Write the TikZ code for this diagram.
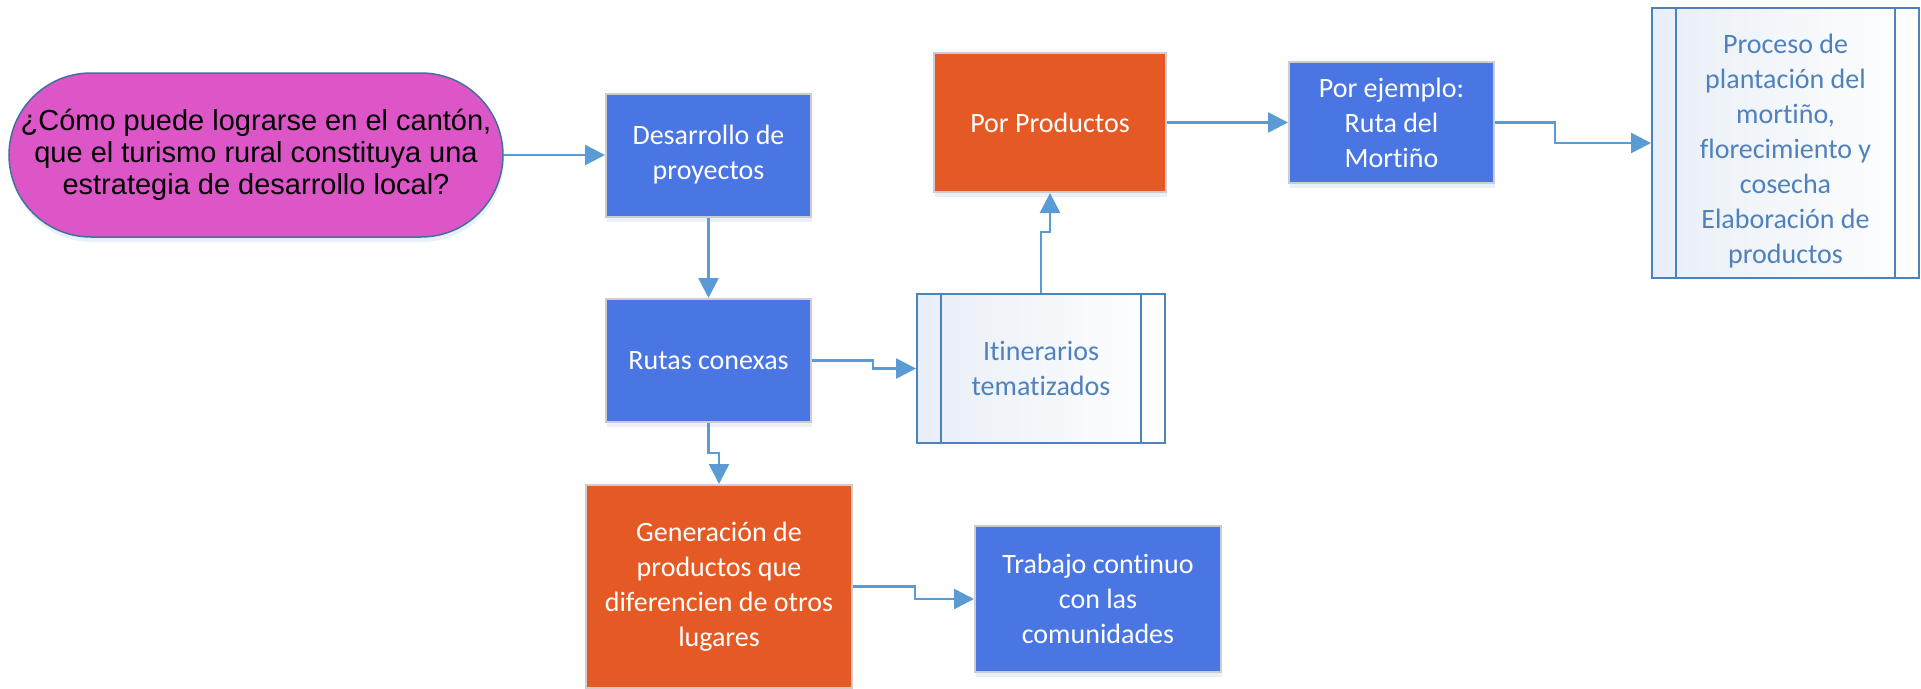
\documentclass[tikz,border=0pt]{standalone}
\usepackage{fontspec}
\setmainfont{Carlito}[Ligatures=NoCommon]
\newfontfamily\arialfont{Liberation Sans}
\usetikzlibrary{arrows.meta,shadows}
\definecolor{fillBlue}{RGB}{74,118,228}
\definecolor{fillOrange}{RGB}{229,89,36}
\definecolor{fillPink}{RGB}{220,86,200}
\definecolor{lineBlue}{RGB}{91,155,213}
\definecolor{procBlue}{RGB}{79,129,189}
\definecolor{edgeGray}{RGB}{205,205,205}
\definecolor{termEdge}{RGB}{65,113,156}

\begin{document}
\begin{tikzpicture}[x=1pt, y=-1pt, >={Triangle[length=20pt,width=20pt]},
  softshadow/.style={drop shadow={shadow xshift=1pt, shadow yshift=-5pt, opacity=0.12, fill=procBlue}},
  box/.style={draw=edgeGray, line width=2pt, text=white, align=center, inner sep=0pt,
    font=\fontsize{28}{35}\selectfont, softshadow},
  bluebox/.style={box, fill=fillBlue},
  orangebox/.style={box, fill=fillOrange},
  procbox/.style={draw=procBlue, line width=2pt, text=procBlue, align=center, inner sep=0pt,
    left color=procBlue!13, right color=white, font=\fontsize{28}{35}\selectfont},
  procline/.style={draw=procBlue, line width=2pt},
  question/.style={draw=termEdge, line width=1.5pt, fill=fillPink, rounded corners=82pt,
    minimum width=494pt, minimum height=164pt, align=center, inner sep=0pt,
    font=\arialfont\fontsize{29}{32}\selectfont, softshadow},
  link/.style={draw=lineBlue, line width=2.5pt, ->}]
\useasboundingbox (0,0) rectangle (1921,688);
% ---------- 左：问题与第一层 ----------
\node[question] (pregunta) at (256,155) {¿Cómo puede lograrse en el cantón,\\que el turismo rural constituya una\\estrategia de desarrollo local?};
\node[bluebox, minimum width=205pt, minimum height=123pt] (desarrollo) at (708.5,155) {Desarrollo de\\proyectos};
\node[bluebox, minimum width=205pt, minimum height=123pt] (rutas) at (708.5,360.5) {Rutas conexas};
\node[orangebox, minimum width=266pt, minimum height=203pt] (generacion) at (719,586.5) {Generación de\\productos que\\diferencien de otros\\lugares};
\node[bluebox, minimum width=246pt, minimum height=146pt] (trabajo) at (1098,599) {Trabajo continuo\\con las\\comunidades};
% ---------- 中：itinerarios ----------
\node[procbox, minimum width=248pt, minimum height=149pt] (itinerarios) at (1041,368.5) {Itinerarios\\tematizados};
\draw[procline] ([xshift=25pt]itinerarios.north west) -- ([xshift=25pt]itinerarios.south west);
\draw[procline] ([xshift=-25pt]itinerarios.north east) -- ([xshift=-25pt]itinerarios.south east);
\node[orangebox, minimum width=232pt, minimum height=139pt] (productos) at (1050,122.5) {Por Productos};
% ---------- 右：ejemplo y proceso ----------
\node[bluebox, minimum width=205pt, minimum height=121pt] (ejemplo) at (1391.5,122.5) {Por ejemplo:\\Ruta del\\Mortiño};
\node[procbox, minimum width=267pt, minimum height=270pt] (proceso) at (1785.5,143) {\rule{0pt}{36pt}Proceso de\\plantación del\\mortiño,\\florecimiento y\\cosecha\\Elaboración de\\productos};
\draw[procline] ([xshift=25pt]proceso.north west) -- ([xshift=25pt]proceso.south west);
\draw[procline] ([xshift=-25pt]proceso.north east) -- ([xshift=-25pt]proceso.south east);
% 连线
\draw[link] (pregunta.east) -- (desarrollo.west);
\draw[link] (desarrollo.south) -- (rutas.north);
\draw[link] (rutas.east) -- ++(61,0) |- (itinerarios.west);
\draw[link] (rutas.south) -- ++(0,30) -| (generacion.north);
\draw[link] (generacion.east) -- ++(62,0) |- (trabajo.west);
\draw[link] (itinerarios.north) -- ++(0,-61) -| (productos.south);
\draw[link] (productos.east) -- (ejemplo.west);
\draw[link] (ejemplo.east) -- ++(60,0) |- (proceso.west);
\end{tikzpicture}
\end{document}
